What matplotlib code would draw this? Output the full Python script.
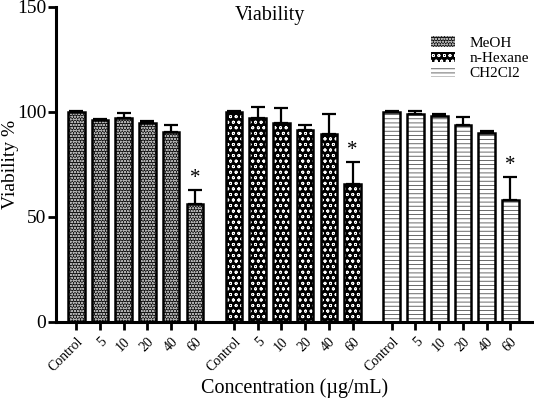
import matplotlib
matplotlib.use("Agg")
import matplotlib.pyplot as plt
import numpy as np

plt.rcParams['font.family'] = ['Liberation Serif', 'DejaVu Serif']
plt.rcParams['hatch.linewidth'] = 0.6

# data
concs = ["Control", "5", "10", "20", "40", "60"]
solvents = ["MeOH", "n-Hexane", "CH2Cl2"]
meoh = [100, 96, 97, 94.5, 90.5, 56]
meoh_err = [0.5, 0.5, 2.5, 1, 3.5, 7]
hexane = [100, 97, 94.5, 91.5, 89.5, 65.5]
hexane_err = [0.5, 5.5, 7.5, 2.5, 9.5, 10.5]
ch2cl2 = [100, 99, 98, 94, 90, 58]
ch2cl2_err = [0.5, 1.5, 1, 3.5, 1, 11]
signif = [False, False, False, False, False, True]

values = [meoh, hexane, ch2cl2]
errors = [meoh_err, hexane_err, ch2cl2_err]

# fill, hatch colour, hatch pattern for each solvent
styles = [("#111111", "#b0b0b0", "oooooo"),
          ("black", "white", "ooo"),
          ("white", "#505050", "----")]

fig = plt.figure(figsize=(5.34, 4.03), dpi=100)
ax = fig.add_axes([0.105, 0.201, 0.893, 0.782])

step = 1.0
gap = 1.65
width = 0.7
xticks = []
xlabels = []
handles = []
for g, (vals, errs) in enumerate(zip(values, errors)):
    x = np.arange(len(concs)) * step + g * (5 * step + gap)
    fc, hc, hatch = styles[g]
    # hatched fill (hatch takes the edge colour)
    ax.bar(x, vals, width, facecolor=fc, edgecolor=hc, hatch=hatch, linewidth=0, zorder=2)
    # black outline on top
    ax.bar(x, vals, width, fill=False, edgecolor="black", linewidth=1.8, zorder=3)
    ax.errorbar(x, vals, yerr=[np.zeros(len(errs)), errs], fmt="none",
                ecolor="black", elinewidth=1.6, capsize=5, capthick=1.6, zorder=1)
    for xi, v, e, s in zip(x, vals, errs, signif):
        if s:
            ax.text(xi, v + e + 1, "*", ha="center", va="bottom", fontsize=15)
    xticks += list(x)
    xlabels += concs
    h = plt.Rectangle((0, 0), 1, 1, facecolor=fc, edgecolor=hc, hatch=hatch, linewidth=0)
    handles.append(h)

ax.set_xticks(xticks)
ax.set_xticklabels(xlabels, rotation=45, ha="right", rotation_mode="anchor", fontsize=10)
ax.set_xlim(xticks[0] - 0.85, xticks[-1] + 0.95)
ax.set_ylim(0, 150)
ax.set_yticks([0, 50, 100, 150])
ax.tick_params(axis="y", labelsize=14, width=2, length=6, direction="out", pad=1)
ax.tick_params(axis="x", width=2, length=6, direction="out")
for s in ["top", "right"]:
    ax.spines[s].set_visible(False)
for s in ["left", "bottom"]:
    ax.spines[s].set_linewidth(2.2)

ax.set_ylabel("Viability %", fontsize=14)
ax.yaxis.set_label_coords(-0.078, 0.5)
ax.set_xlabel("Concentration (\u00b5g/mL)", fontsize=14.5, labelpad=3)
fig.text(0.505, 0.961, "Viability", ha="center", va="center", fontsize=14.5)

leg = ax.legend(handles, solvents, loc="upper right", bbox_to_anchor=(1.02, 0.95),
                frameon=False, fontsize=11, handlelength=1.6, handleheight=0.7,
                handletextpad=0.9, labelspacing=0.1)
for p in leg.get_patches():
    p.set_linewidth(0)

fig.savefig("out.png", dpi=100)
